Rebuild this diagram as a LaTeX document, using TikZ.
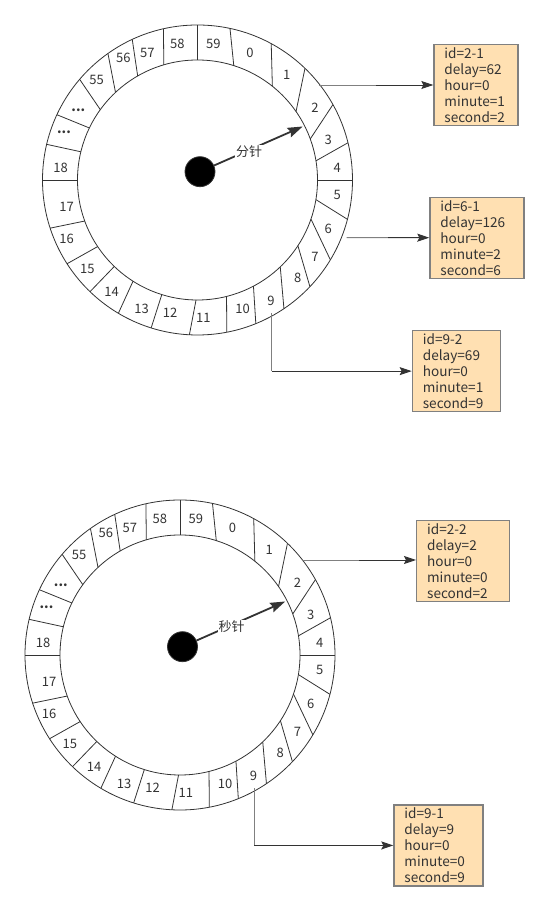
\documentclass[tikz,border=0pt]{standalone}
\usepackage{fontspec}
\usepackage{xcolor}
\usepackage{tikz}
\usetikzlibrary{calc,arrows.meta,positioning}
\newfontfamily\cjk{Noto Sans CJK SC}
\definecolor{recfill}{RGB}{255,224,178}
\definecolor{recline}{RGB}{128,128,128}
\definecolor{ink}{RGB}{51,51,51}
\tikzset{
  rim/.style      = {draw=ink, line width=0.8pt},
  slot/.style     = {font=\cjk\fontsize{13}{15}\selectfont, text=ink, inner sep=0pt},
  hub/.style      = {circle, fill=black, draw=ink, line width=0.8pt,
                     minimum size=30pt, inner sep=0pt},
  hand/.style     = {-{Stealth[length=15pt,width=10pt,inset=2pt]}, line width=1.8pt, ink},
  handlab/.style  = {font=\cjk\fontsize{13}{15}\selectfont, text=ink,
                     fill=white, inner sep=1pt},
  link/.style     = {-{Stealth[length=12pt,width=8pt,inset=2pt]}, line width=0.9pt, ink},
  linkfade/.style = {line width=0.9pt, recline},
  recbox/.style   = {draw=recline, line width=1.3pt, fill=recfill, anchor=north west,
                     inner xsep=10.5pt, inner ysep=0pt, minimum height=81pt,
                     text width=#1, align=left, text=ink,
                     font=\cjk\fontsize{13.6}{16}\selectfont},
  pics/timewheel/.style = {code={
    \draw[rim] (0,0) circle (155) (0,0) circle (120);
    \foreach \a/\b in {0/0, 13.9/9.2, 29.1/20.0, 46.1/34.8, 61.6/51.4, 77.9/72.4,
                       90/90, 102.7/106.3, 114.9/119.9, 125.3/133.1, 139.5/144.1,
                       155.1/154.3, 166.7/166.4, 180/180, 198.1/200, 212.7/213.7,
                       226.1/226.1, 239.3/237.5, 252.6/252.7, 267/269.3, 280.9/284,
                       292.1/297.8, 303.9/313.6, 316.5/326.8, 329/341, 345.3/350.6}
      \draw[rim] (\a:155) -- (\b:120);
    \foreach \x/\y/\t in {52.5/126.7/0, 89.2/105/1, 117.5/72.7/2, 130.8/40/3,
                          139.8/11.7/4, 139.8/-15/5, 130.8/-49.3/6, 117.5/-76.7/7,
                          100.2/-98.3/8, 73.5/-121/9, 45.2/-129.3/10, 5.8/-138.3/11,
                          -27.5/-132.7/12, -55.8/-129.3/13, -85.8/-111.7/14,
                          -110.2/-89.3/15, -130.8/-59.3/16, -130.8/-27.3/17,
                          -136.8/11.7/18, -100.8/100/55, -74.2/121.7/56,
                          -50.2/127.3/57, -20.2/136/58, 15.8/136/59}
      \node[slot] (-n\t) at (\x,\y) {\t};
    \node[slot, font=\cjk\bfseries\fontsize{13}{15}\selectfont] (-dotsa) at (-133.5,47.3) {...};
    \node[slot, font=\cjk\bfseries\fontsize{13}{15}\selectfont] (-dotsb) at (-119.2,70) {...};
    \node[hub] (-hub) at (2.5,8.3) {};
    \coordinate (-tip) at (105.2,53.5);
    \draw[hand] (-hub) -- (-tip);
    \node[handlab] (-lab) at (51.5,28.5) {#1};
    \coordinate (-out2) at (121.8,95);
    \coordinate (-out6) at (149.2,-57.7);
    \coordinate (-out9) at (74.2,-133.3);
  }},
}
\begin{document}
\begin{tikzpicture}[x=1pt,y=1pt]
  \useasboundingbox (0,0) rectangle (549,911);
  \pic (top) at (197.5,731) {timewheel=分针};
  \pic (bot) at (180,256) {timewheel=秒针};

  \node[recbox=63pt] (box21) at (433.3,867) {id=2-1\\delay=62\\hour=0\\minute=1\\second=2};
  \node[recbox=73pt] (box61) at (429.3,714.3) {id=6-1\\delay=126\\hour=0\\minute=2\\second=6};
  \node[recbox=67pt] (box92) at (411.7,581) {id=9-2\\delay=69\\hour=0\\minute=1\\second=9};
  \node[recbox=72pt] (box22) at (416,391) {id=2-2\\delay=2\\hour=0\\minute=0\\second=2};
  \node[recbox=68pt] (box91) at (393.3,106.7) {id=9-1\\delay=9\\hour=0\\minute=0\\second=9};

  \coordinate (m21) at ($(top-out2)!0.5!(top-out2 -| box21.west)$);
  \draw[linkfade] (top-out2) -- (m21);
  \draw[link] (m21) -- (top-out2 -| box21.west);
  \coordinate (m61) at ($(top-out6)!0.5!(top-out6 -| box61.west)$);
  \draw[linkfade] (top-out6) -- (m61);
  \draw[link] (m61) -- (top-out6 -| box61.west);
  \coordinate (k92) at (top-out9 |- box92.west);
  \draw[linkfade] (top-out9) -- (k92);
  \draw[link] (k92) -- (box92.west);

  \coordinate (m22) at ($(bot-out2)!0.5!(bot-out2 -| box22.west)$);
  \draw[linkfade] (bot-out2) -- (m22);
  \draw[link] (m22) -- (bot-out2 -| box22.west);
  \coordinate (k91) at (bot-out9 |- box91.west);
  \draw[linkfade] (bot-out9) -- (k91);
  \draw[link] (k91) -- (box91.west);
\end{tikzpicture}
\end{document}
